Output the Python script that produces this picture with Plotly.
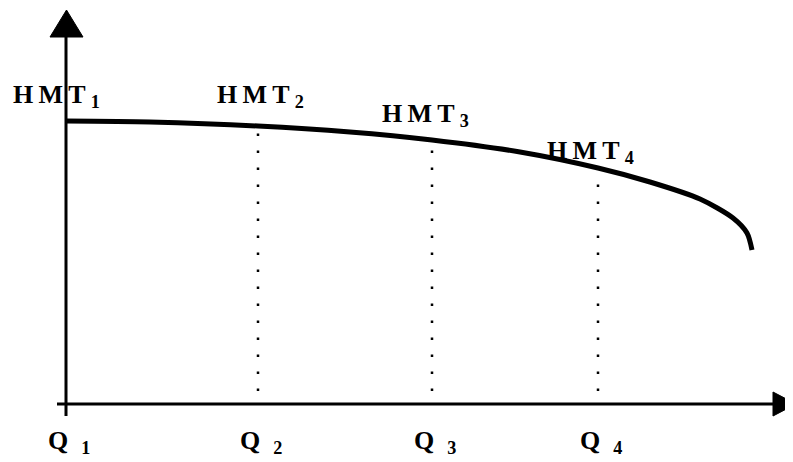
import plotly.graph_objects as go

# Data (arbitrary schematic units: Q along x, HMT along y; origin at axes crossing)
q_positions = [0, 192, 366, 532]              # Q1..Q4
hmt_values = [282, 277, 263, 235]             # HMT1..HMT4 on the curve
q_labels = ["Q\u2002<sub>1</sub>", "Q\u2002<sub>2</sub>", "Q\u2002<sub>3</sub>", "Q\u2002<sub>4</sub>"]
hmt_labels = ["H\u2009M\u2009T\u2009<sub>1</sub>", "H\u2009M\u2009T\u2009<sub>2</sub>",
              "H\u2009M\u2009T\u2009<sub>3</sub>", "H\u2009M\u2009T\u2009<sub>4</sub>"]

# Pump characteristic curve
curve_q = [0, 84, 192, 284, 366, 454, 532, 584, 634, 667, 681, 686]
curve_h = [282, 281, 277, 271, 263, 251, 235, 221, 204, 185, 170, 153]

dot_bottom = 12

FONT = "Liberation Serif, Times New Roman, serif"

fig = go.Figure()

# dotted verticals from Q2..Q4 up to the curve
for q, h in zip(q_positions[1:], hmt_values[1:]):
    fig.add_trace(go.Scatter(x=[q, q], y=[dot_bottom, h - 5], mode="lines",
                             line=dict(color="black", width=2.5, dash="2.5px,14.5px"),
                             hoverinfo="skip", showlegend=False))

# curve
fig.add_trace(go.Scatter(x=curve_q, y=curve_h, mode="lines",
                         line=dict(color="black", width=5, shape="spline", smoothing=0.8),
                         hoverinfo="skip", showlegend=False))

shapes = [
    # y axis
    dict(type="line", x0=0, x1=0, y0=-13, y1=370, line=dict(color="black", width=3)),
    dict(type="path", path="M -16,366 L 17,366 L 0.5,393 Z", fillcolor="black",
         line=dict(color="black", width=1)),
    # x axis
    dict(type="line", x0=-9, x1=710, y0=-1, y1=-1, line=dict(color="black", width=3)),
    dict(type="path", path="M 707,11 L 707,-13 L 730,-1 Z", fillcolor="black",
         line=dict(color="black", width=1)),
]

annotations = []
hmt_pos = [(-55, 307), (149, 307), (314, 288), (479, 251)]
for (x, y), t in zip(hmt_pos, hmt_labels):
    annotations.append(dict(x=x, y=y, xref="x", yref="y", text="<b>" + t + "</b>",
                            showarrow=False, xanchor="left", yanchor="middle",
                            font=dict(family=FONT, size=26, color="black")))
for q, t in zip(q_positions, q_labels):
    annotations.append(dict(x=q - 20, y=-39, xref="x", yref="y", text="<b>" + t + "</b>",
                            showarrow=False, xanchor="left", yanchor="middle",
                            font=dict(family=FONT, size=26, color="black")))

# The page body has an 8px margin, so the figure is drawn 8px in from the corner.
fig.update_layout(
    width=785, height=454,
    margin=dict(l=0, r=0, t=0, b=0),
    paper_bgcolor="white", plot_bgcolor="white",
    xaxis=dict(range=[-58, 727], visible=False, fixedrange=True),
    yaxis=dict(range=[-59, 395], visible=False, fixedrange=True),
    shapes=shapes, annotations=annotations,
)

fig.write_html("out.html")
